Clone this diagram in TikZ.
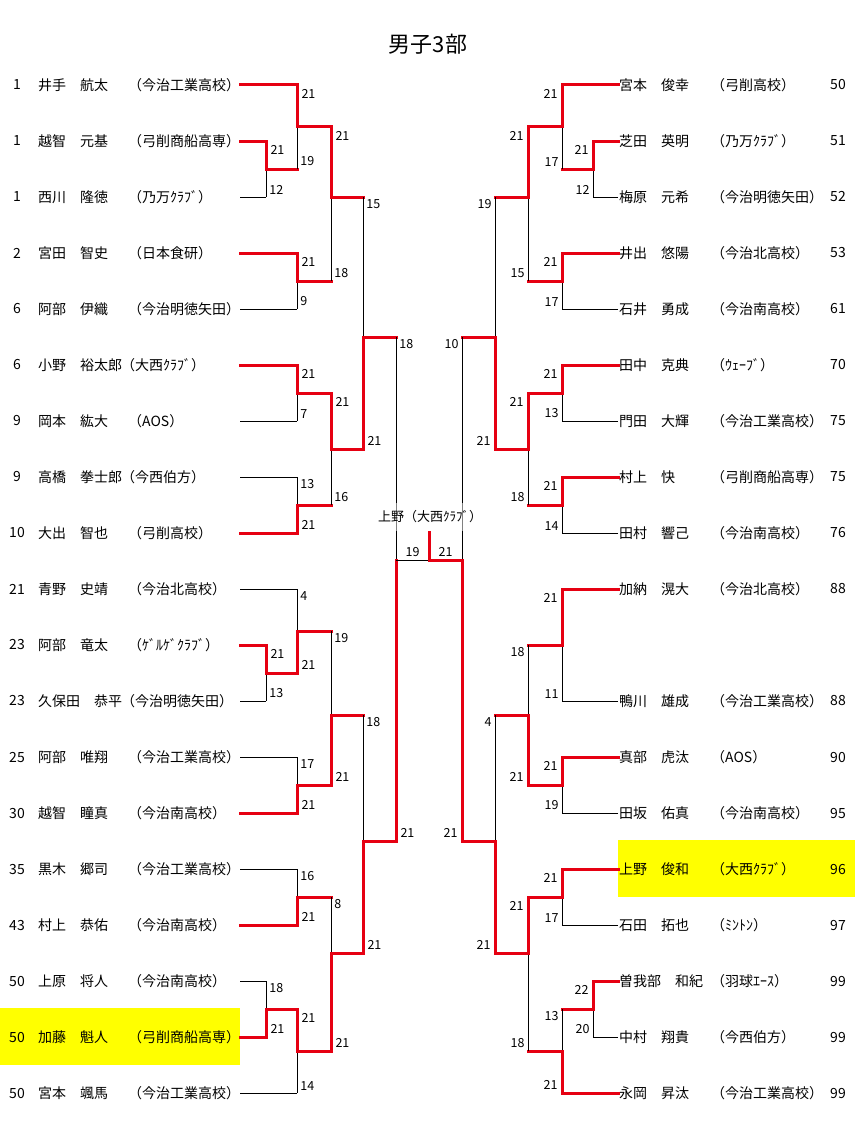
\documentclass[tikz,border=0pt]{standalone}
\usepackage{fontspec}
\setmainfont{Noto Sans CJK JP}
\definecolor{bred}{RGB}{230,0,18}
\definecolor{hilite}{RGB}{255,255,0}
\def\firstof#1#2\relax{#1}
% one side of a match: from, join, style, label style, score
\newcommand\leg[5]{%
  \if j\firstof#1\relax \draw[win] (#1) -- (#1 -| #2);
  \else \draw[#3] (#1) -- (#1 -| #2);\fi
  \draw[#3] (#1 -| #2) node[#4]{#5} -- (#2);}
% a match: upper, lower, x, y, join, upper score, lower score
\newcommand\bout[7]{%
  \coordinate (#5) at (#3,#4);
  \ifnum#6>#7\relax
    \leg{#1}{#5}{win}{uplab}{#6}\leg{#2}{#5}{lose}{lowlab}{#7}%
  \else
    \leg{#1}{#5}{lose}{uplab}{#6}\leg{#2}{#5}{win}{lowlab}{#7}%
  \fi}
\begin{document}
\begin{tikzpicture}[x=1pt,y=-1pt,
  win/.style={draw=bred,line width=3pt,line cap=rect},
  lose/.style={draw=black,line width=.8pt},
  txt/.style={font=\fontsize{14}{16}\selectfont,inner sep=0pt},
  score/.style={font=\fontsize{12.5}{14}\selectfont,inner xsep=3pt,inner ysep=2.5pt},
  uplab/.style={score,anchor=north west},
  lowlab/.style={score,anchor=south west}]
\useasboundingbox (0,0) rectangle (855,1121);
\fill[hilite] (0,1008) rectangle (240,1065);
\fill[hilite] (618,840) rectangle (855,897);
\node[font=\fontsize{22}{26}\selectfont] (title) at (428,44) {男子3部};
%left
\foreach \i/\rk/\nm/\cl/\cx [evaluate=\i as \y using 85+56*(\i-1)] in {
  1/1/井手　航太/（今治工業高校）/128, 2/1/越智　元基/（弓削商船高専）/128,
  3/1/西川　隆徳/（乃万ｸﾗﾌﾞ）/128, 4/2/宮田　智史/（日本食研）/128,
  5/6/阿部　伊織/（今治明徳矢田）/128, 6/6/小野　裕太郎/（大西ｸﾗﾌﾞ）/121,
  7/9/岡本　紘大/（AOS）/128, 8/9/高橋　拳士郎/（今西伯方）/121,
  9/10/大出　智也/（弓削高校）/128, 10/21/青野　史靖/（今治北高校）/128,
  11/23/阿部　竜太/（ｹﾞﾙｹﾞｸﾗﾌﾞ）/128, 12/23/久保田　恭平/（今治明徳矢田）/121,
  13/25/阿部　唯翔/（今治工業高校）/128, 14/30/越智　瞳真/（今治南高校）/128,
  15/35/黒木　郷司/（今治工業高校）/128, 16/43/村上　恭佑/（今治南高校）/128,
  17/50/上原　将人/（今治南高校）/128, 18/50/加藤　魁人/（弓削商船高専）/128,
  19/50/宮本　颯馬/（今治工業高校）/128}{
  \coordinate (pl\i) at (240,\y);
  \node[txt] (kl\i) at (17,\y) {\rk};
  \node[txt,anchor=west] (nl\i) at (38,\y) {\nm};
  \node[txt,anchor=west] (cl\i) at (\cx,\y) {\cl};
}
%right
\foreach \i/\nm/\cl/\rk [evaluate=\i as \y using 85+56*(\i-1)] in {
  1/宮本　俊幸/（弓削高校）/50, 2/芝田　英明/（乃万ｸﾗﾌﾞ）/51,
  3/梅原　元希/（今治明徳矢田）/52, 4/井出　悠陽/（今治北高校）/53,
  5/石井　勇成/（今治南高校）/61, 6/田中　克典/（ｳｪｰﾌﾞ）/70,
  7/門田　大輝/（今治工業高校）/75, 8/村上　快/（弓削商船高専）/75,
  9/田村　響己/（今治南高校）/76, 10/加納　滉大/（今治北高校）/88,
  12/鴨川　雄成/（今治工業高校）/88, 13/真部　虎汰/（AOS）/90,
  14/田坂　佑真/（今治南高校）/95, 15/上野　俊和/（大西ｸﾗﾌﾞ）/96,
  16/石田　拓也/（ﾐﾝﾄﾝ）/97, 17/曽我部　和紀/（羽球ｴｰｽ）/99,
  18/中村　翔貴/（今西伯方）/99, 19/永岡　昇汰/（今治工業高校）/99}{
  \coordinate (pr\i) at (618,\y);
  \node[txt,anchor=west] (nr\i) at (619,\y) {\nm};
  \node[txt,anchor=west] (cr\i) at (711,\y) {\cl};
  \node[txt] (kr\i) at (838,\y) {\rk};
}
%left bracket
\bout{pl2}{pl3}{266}{169}{jl1}{21}{12}
\bout{pl1}{jl1}{297}{127}{jl2}{21}{19}
\bout{pl4}{pl5}{297}{281}{jl3}{21}{9}
\bout{jl2}{jl3}{331}{197}{jl4}{21}{18}
\bout{pl6}{pl7}{297}{393}{jl5}{21}{7}
\bout{pl8}{pl9}{297}{505}{jl6}{13}{21}
\bout{jl5}{jl6}{331}{449}{jl7}{21}{16}
\bout{jl4}{jl7}{363}{337}{jl8}{15}{21}
\bout{pl11}{pl12}{266}{673}{jl9}{21}{13}
\bout{pl10}{jl9}{297}{631}{jl10}{4}{21}
\bout{pl13}{pl14}{297}{785}{jl11}{17}{21}
\bout{jl10}{jl11}{331}{715}{jl12}{19}{21}
\bout{pl15}{pl16}{297}{897}{jl13}{16}{21}
\bout{pl17}{pl18}{266}{1009}{jl14}{18}{21}
\bout{jl14}{pl19}{297}{1051}{jl15}{21}{14}
\bout{jl13}{jl15}{331}{953}{jl16}{8}{21}
\bout{jl12}{jl16}{363}{841}{jl17}{18}{21}
\bout{jl8}{jl17}{396}{560}{jl18}{18}{21}
%right bracket
\begin{scope}[uplab/.style={score,anchor=north east},lowlab/.style={score,anchor=south east}]
\bout{pr2}{pr3}{593}{169}{jr1}{21}{12}
\bout{pr1}{jr1}{562}{127}{jr2}{21}{17}
\bout{pr4}{pr5}{562}{281}{jr3}{21}{17}
\bout{jr2}{jr3}{528}{197}{jr4}{21}{15}
\bout{pr6}{pr7}{562}{393}{jr5}{21}{13}
\bout{pr8}{pr9}{562}{505}{jr6}{21}{14}
\bout{jr5}{jr6}{528}{449}{jr7}{21}{18}
\bout{jr4}{jr7}{495}{337}{jr8}{19}{21}
\bout{pr10}{pr12}{562}{645}{jr9}{21}{11}
\bout{pr13}{pr14}{562}{785}{jr10}{21}{19}
\bout{jr9}{jr10}{528}{715}{jr11}{18}{21}
\bout{pr15}{pr16}{562}{897}{jr12}{21}{17}
\bout{pr17}{pr18}{593}{1009}{jr13}{22}{20}
\bout{jr13}{pr19}{562}{1051}{jr14}{13}{21}
\bout{jr12}{jr14}{528}{953}{jr15}{21}{18}
\bout{jr11}{jr15}{495}{841}{jr16}{4}{21}
\bout{jr8}{jr16}{462}{560}{jr17}{10}{21}
\end{scope}
%final
\coordinate (fin) at (429,560);
\coordinate (champ) at (429,532);
\draw[lose] (jl18) -- node[score,above]{19} (fin);
\draw[win] (jr17) -- node[score,above]{21} (fin) -- (champ);
\node[font=\fontsize{13}{15}\selectfont,fill=white,fill opacity=.5,text opacity=1,
  minimum width=104pt,minimum height=28pt,inner sep=0pt] (champion) at (430,517) {上野（大西ｸﾗﾌﾞ）};
\end{tikzpicture}
\end{document}
